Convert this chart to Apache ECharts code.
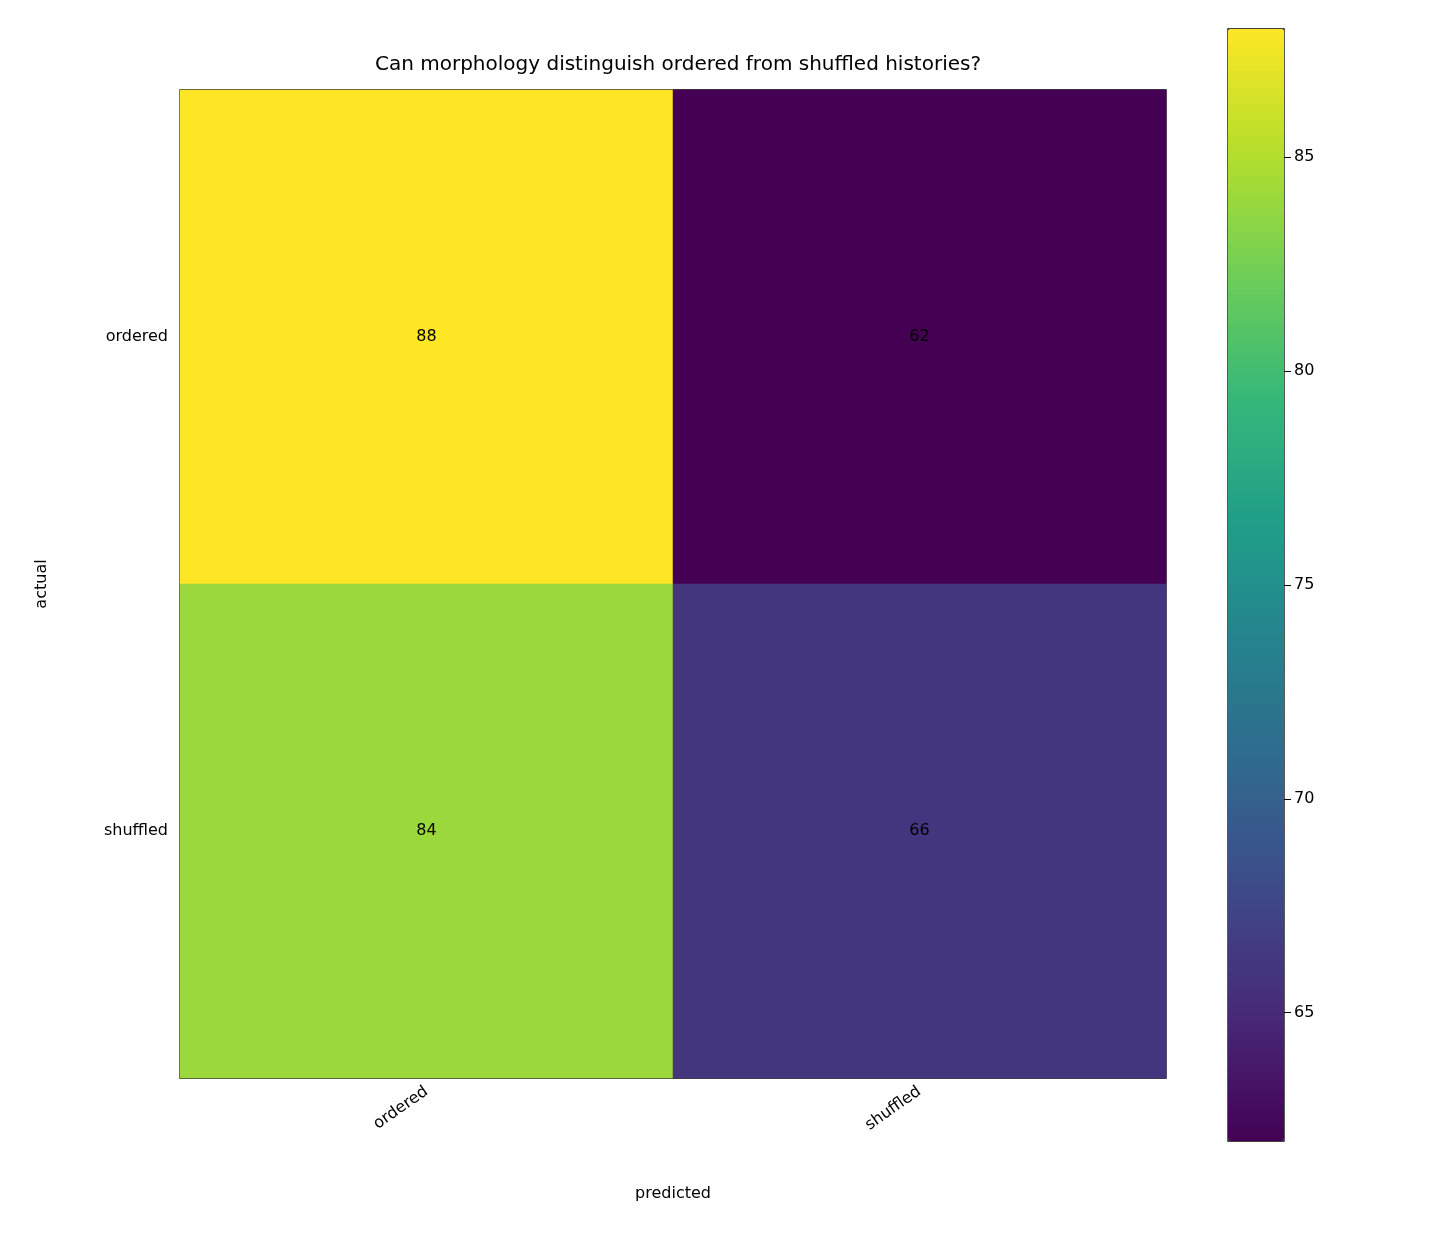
<!DOCTYPE html>
<html><head><meta charset="utf-8">
<script src="https://cdn.jsdelivr.net/npm/echarts@6/dist/echarts.min.js"></script>
<style>html,body{margin:0;background:#fff}#c{width:1440px;height:1260px}</style>
</head><body><div id="c"></div>
<script>
const predicted = ['ordered', 'shuffled'];
const actual = ['ordered', 'shuffled'];
const values = [[88, 62], [84, 66]]; // rows = actual, cols = predicted
const cbTicks = [65, 70, 75, 80, 85];
const vmin = 62, vmax = 88;

const data = [];
actual.forEach((a, i) => predicted.forEach((p, j) => data.push([j, i, values[i][j]])));
const viridis = ['#440154','#482878','#3e4989','#31688e','#26828e','#1f9e89','#35b779','#6ece58','#b5de2b','#fde725'];
const font = 'DejaVu Sans';
const chart = echarts.init(document.getElementById('c'));
chart.setOption({
  animation: false,
  textStyle: {fontFamily: font},
  title: {text: 'Can morphology distinguish ordered from shuffled histories?', left: 673, top: 50, textAlign: 'center',
    textStyle: {fontFamily: font, fontSize: 20, fontWeight: 'normal', color: '#000'}},
  grid: [
    {left: 180, top: 90, width: 986, height: 988, show: true, borderColor: '#000', borderWidth: 1.3, backgroundColor: 'transparent'},
    {left: 1228, top: 29, width: 56, height: 1112, show: true, borderColor: '#000', borderWidth: 1.3, backgroundColor: 'transparent'}
  ],
  xAxis: [
    {type: 'category', data: predicted, gridIndex: 0, name: 'predicted', nameLocation: 'middle', nameGap: 108,
     nameTextStyle: {fontSize: 16, color: '#000'},
     axisLine: {show: false}, splitLine: {show: false}, splitArea: {show: false},
     axisTick: {alignWithLabel: true, length: 7, lineStyle: {color: '#000'}},
     axisLabel: {rotate: 35, fontSize: 16, color: '#000', margin: 12}},
    {type: 'category', data: [''], gridIndex: 1, show: false}
  ],
  yAxis: [
    {type: 'category', data: actual, inverse: true, gridIndex: 0, name: 'actual', nameLocation: 'middle', nameGap: 130,
     nameTextStyle: {fontSize: 16, color: '#000'},
     axisLine: {show: false}, splitLine: {show: false}, splitArea: {show: false},
     axisTick: {alignWithLabel: true, length: 7, lineStyle: {color: '#000'}},
     axisLabel: {fontSize: 16, color: '#000', margin: 12}},
    {type: 'value', gridIndex: 1, min: vmin, max: vmax, position: 'right',
     axisLine: {show: false}, splitLine: {show: false},
     axisTick: {show: true, length: 7, customValues: cbTicks, lineStyle: {color: '#000'}},
     axisLabel: {fontSize: 16, color: '#000', margin: 10, customValues: cbTicks}}
  ],
  visualMap: {type: 'continuous', min: vmin, max: vmax, seriesIndex: 0, calculable: false,
    left: 1228, top: 29, itemWidth: 56, itemHeight: 1112, padding: 0, text: null, showLabel: false,
    inRange: {color: viridis}},
  series: [{type: 'heatmap', xAxisIndex: 0, yAxisIndex: 0, data: data,
    label: {show: true, fontSize: 16, color: '#000', fontFamily: font}}]
});
</script></body></html>
